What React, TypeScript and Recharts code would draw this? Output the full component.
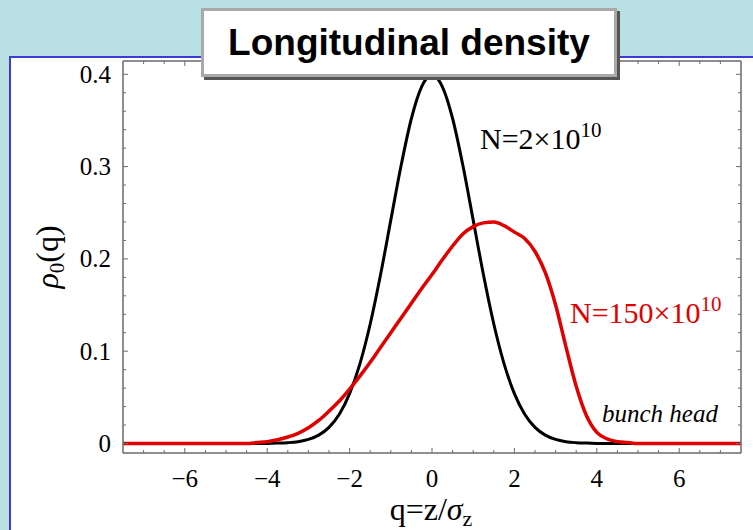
import React from 'react'
import { LineChart, Line, XAxis, YAxis } from 'recharts'

// q = z / sigma_z
const Q = [
  -7.5, -7.25, -7, -6.75, -6.5, -6.25, -6, -5.75, -5.5, -5.25, -5, -4.75, -4.5, -4.25, -4, -3.75,
  -3.5, -3.25, -3, -2.75, -2.5, -2.25, -2, -1.75, -1.5, -1.25, -1, -0.75, -0.5, -0.25, 0, 0.25,
  0.5, 0.75, 1, 1.25, 1.5, 1.75, 2, 2.25, 2.5, 2.75, 3, 3.25, 3.5, 3.75, 4, 4.25, 4.5, 4.75, 5,
  5.25, 5.5, 5.75, 6, 6.25, 6.5, 6.75, 7, 7.25, 7.5,
]

// N = 2e10 (black)
const RHO_LOW = [
  0, 0, 0, 0, 0, 0, 0, 0, 0, 0, 0, 0, 0, 0, 0.0001, 0.0004,
  0.0009, 0.002, 0.0044, 0.0091, 0.0175, 0.0317, 0.054, 0.0863, 0.1295, 0.1826, 0.242, 0.3011, 0.3521, 0.3867, 0.3989, 0.3867,
  0.3521, 0.3011, 0.242, 0.1826, 0.1295, 0.0863, 0.054, 0.0317, 0.0175, 0.0091, 0.0044, 0.002, 0.0009, 0.0004, 0.0001, 0, 0, 0, 0,
  0, 0, 0, 0, 0, 0, 0, 0, 0, 0,
]

// N = 150e10 (red)
const RHO_HIGH = [
  0, 0, 0, 0, 0, 0, 0, 0, 0, 0, 0, 0, 0, 0.001, 0.002, 0.004,
  0.007, 0.011, 0.017, 0.025, 0.035, 0.046, 0.059, 0.073, 0.088, 0.104, 0.12, 0.136, 0.152, 0.168, 0.183, 0.199,
  0.214, 0.227, 0.235, 0.239, 0.24, 0.236, 0.229, 0.222, 0.208, 0.185, 0.15, 0.105, 0.062, 0.03, 0.012, 0.005, 0.002, 0.001, 0,
  0, 0, 0, 0, 0, 0, 0, 0, 0, 0,
]

const X_MAJOR = [-6, -4, -2, 0, 2, 4, 6]
const X_TICKS = Array.from({ length: 29 }, (_, i) => -7 + i * 0.5)
const Y_MAJOR = [0, 0.1, 0.2, 0.3, 0.4]
const Y_TICKS = Array.from({ length: 21 }, (_, i) => Math.round(i * 2) / 100)

const data = Q.map((q, i) => ({ q, low: RHO_LOW[i], high: RHO_HIGH[i] }))

const SERIF = '"Liberation Serif", "Times New Roman", serif'
const FRAME = '#6a6a6a'

const isMajorX = (v: number) => X_MAJOR.some(m => Math.abs(m - v) < 1e-6)
const isMajorY = (v: number) => Y_MAJOR.some(m => Math.abs(m - v) < 1e-6)
const fmtX = (v: number) => (v < 0 ? '\u2212' + Math.abs(v) : String(v))
const fmtY = (v: number) => (v === 0 ? '0' : v.toFixed(1))

// inward ticks on all four sides, labels only bottom/left
function BottomTick({ x, y, payload }: any) {
  const major = isMajorX(payload.value)
  return (
    <g>
      <line x1={x} y1={y} x2={x} y2={y - (major ? 5 : 3)} stroke={FRAME} strokeWidth={1} />
      {major && (
        <text x={x} y={y + 34} textAnchor="middle" fontFamily={SERIF} fontSize={25} fill="#000">
          {fmtX(payload.value)}
        </text>
      )}
    </g>
  )
}

function TopTick({ x, y, payload }: any) {
  const major = isMajorX(payload.value)
  return <line x1={x} y1={y} x2={x} y2={y + (major ? 5 : 3)} stroke={FRAME} strokeWidth={1} />
}

function LeftTick({ x, y, payload }: any) {
  const major = isMajorY(payload.value)
  return (
    <g>
      <line x1={x} y1={y} x2={x + (major ? 5 : 3)} y2={y} stroke={FRAME} strokeWidth={1} />
      {major && (
        <text x={x - 12} y={y + 8.5} textAnchor="end" fontFamily={SERIF} fontSize={25} fill="#000">
          {fmtY(payload.value)}
        </text>
      )}
    </g>
  )
}

function RightTick({ x, y, payload }: any) {
  const major = isMajorY(payload.value)
  return <line x1={x} y1={y} x2={x - (major ? 5 : 3)} y2={y} stroke={FRAME} strokeWidth={1} />
}

export default function App() {
  const xDomain = [-7.5, 7.5]
  const yDomain = [-0.0103, 0.4144]
  return (
    <div style={{ position: 'absolute', left: 0, top: 0, width: 753, height: 530, overflow: 'hidden', background: '#b9e1e4' }}>
      {/* white slide panel */}
      <div
        style={{
          position: 'absolute',
          left: 9,
          top: 56,
          width: 800,
          height: 520,
          background: '#fff',
          borderLeft: '2px solid #3b3bd8',
          borderTop: '2px solid #3b3bd8',
        }}
      />

      <div style={{ position: 'absolute', left: 0, top: 0 }}>
        <LineChart width={753} height={530} data={data} margin={{ top: 0, right: 0, bottom: 0, left: 0 }}>
          <XAxis
            dataKey="q"
            type="number"
            domain={xDomain}
            allowDataOverflow
            ticks={X_TICKS}
            interval={0}
            height={77}
            tickSize={0}
            tickMargin={0}
            tickLine={false}
            axisLine={{ stroke: FRAME, strokeWidth: 1.5 }}
            tick={BottomTick}
          />
          <XAxis
            xAxisId="top"
            dataKey="q"
            orientation="top"
            type="number"
            domain={xDomain}
            allowDataOverflow
            ticks={X_TICKS}
            interval={0}
            height={61}
            tickSize={0}
            tickMargin={0}
            tickLine={false}
            axisLine={{ stroke: FRAME, strokeWidth: 1.5 }}
            tick={TopTick}
          />
          <YAxis
            type="number"
            domain={yDomain}
            allowDataOverflow
            ticks={Y_TICKS}
            interval={0}
            width={123}
            tickSize={0}
            tickMargin={0}
            tickLine={false}
            axisLine={{ stroke: FRAME, strokeWidth: 1.5 }}
            tick={LeftTick}
          />
          <YAxis
            yAxisId="right"
            orientation="right"
            type="number"
            domain={yDomain}
            allowDataOverflow
            ticks={Y_TICKS}
            interval={0}
            width={12}
            tickSize={0}
            tickMargin={0}
            tickLine={false}
            axisLine={{ stroke: FRAME, strokeWidth: 1.5 }}
            tick={RightTick}
          />
          <Line
            xAxisId="top"
            yAxisId="right"
            type="monotone"
            dataKey="low"
            stroke="#000"
            strokeWidth={3}
            dot={false}
            isAnimationActive={false}
          />
          <Line
            type="monotone"
            dataKey="high"
            stroke="#e00000"
            strokeWidth={3.5}
            dot={false}
            isAnimationActive={false}
          />
        </LineChart>
      </div>

      {/* labels and annotations */}
      <svg width={753} height={530} style={{ position: 'absolute', left: 0, top: 0, pointerEvents: 'none' }}>
        <text x={480} y={149} fontFamily={SERIF} fontSize={30} fill="#000">
          N=2×10
          <tspan fontSize={21} dy={-12}>10</tspan>
        </text>
        <text x={570} y={323} fontFamily={SERIF} fontSize={30} fill="#e00000">
          N=150×10
          <tspan fontSize={21} dy={-12}>10</tspan>
        </text>
        <text x={602} y={422} fontFamily={SERIF} fontSize={25} fontStyle="italic" fill="#000">
          bunch head
        </text>
        <text
          x={58}
          y={257}
          transform="rotate(-90 58 257)"
          textAnchor="middle"
          fontFamily={SERIF}
          fontSize={32}
          fill="#000"
        >
          <tspan fontStyle="italic">ρ</tspan>
          <tspan fontSize={21} dy={6}>0</tspan>
          <tspan dy={-6}>(q)</tspan>
        </text>
        <text x={431} y={520} textAnchor="middle" fontFamily={SERIF} fontSize={32} fill="#000">
          q=z/<tspan fontStyle="italic">σ</tspan>
          <tspan fontSize={22} dy={6}>z</tspan>
        </text>
      </svg>

      {/* title box */}
      <div
        style={{
          position: 'absolute',
          left: 201,
          top: 8,
          width: 416,
          height: 69,
          boxSizing: 'border-box',
          background: '#fff',
          border: '3px solid #a9a9a9',
          boxShadow: '3px 3px 0 #555',
          display: 'flex',
          alignItems: 'center',
          justifyContent: 'center',
          fontFamily: '"Liberation Sans", Arial, sans-serif',
          fontWeight: 'bold',
          fontSize: 37,
          color: '#000',
        }}
      >
        Longitudinal density
      </div>
    </div>
  )
}
